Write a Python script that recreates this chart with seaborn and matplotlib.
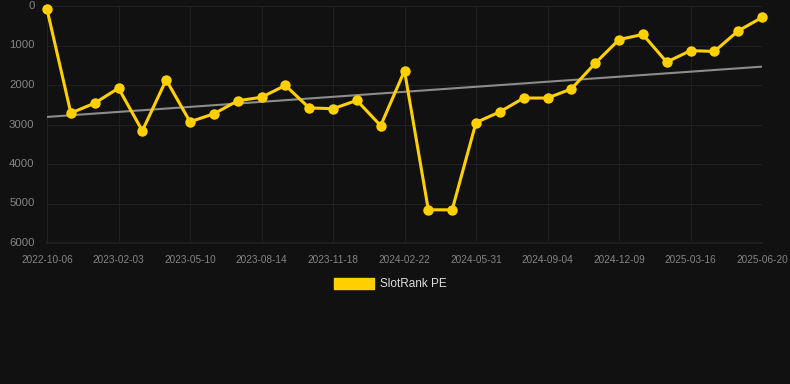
import numpy as np
import pandas as pd
import matplotlib
matplotlib.use("Agg")
import matplotlib.pyplot as plt
from matplotlib.patches import Patch
import seaborn as sns

# Data (rank per period; lower = better)
rank_values = [80, 2710, 2460, 2080, 3160, 1870, 2930, 2730, 2400, 2310,
               2010, 2580, 2600, 2390, 3030, 1640, 5160, 5160, 2950, 2680,
               2330, 2330, 2100, 1450, 850, 720, 1420, 1130, 1150, 630, 290]
tick_labels = ["2022-10-06", "2023-02-03", "2023-05-10", "2023-08-14",
               "2023-11-18", "2024-02-22", "2024-05-31", "2024-09-04",
               "2024-12-09", "2025-03-16", "2025-06-20"]
series_name = "SlotRank PE"

# Colors
bg = "#111111"
grid_col = "#202020"
text_col = "#858585"
yellow = "#FFD000"
trend_col = "#8c8c8c"

df = pd.DataFrame({"idx": np.arange(len(rank_values)), "rank": rank_values})

sns.set_theme(style="dark")
plt.rcParams["font.family"] = ["Liberation Sans", "DejaVu Sans"]

fig = plt.figure(figsize=(7.9, 3.84), dpi=100, facecolor=bg)
ax = fig.add_axes([47 / 790, 1 - 243 / 384, (762 - 47) / 790, (243 - 6) / 384])
ax.set_facecolor(bg)

# Trend line (linear fit)
coef = np.polyfit(df["idx"], df["rank"], 1)
trend = np.polyval(coef, df["idx"])
ax.plot(df["idx"], trend, color=trend_col, lw=1.5, zorder=2)

sns.lineplot(data=df, x="idx", y="rank", ax=ax, color=yellow, lw=2.2,
             marker="o", markersize=7.5, markeredgewidth=0, zorder=3,
             clip_on=False)

ax.set_xlim(0, len(rank_values) - 1)
ax.set_ylim(6000, 0)
ax.set_xticks(np.arange(0, len(rank_values), 3))
ax.set_xticklabels(tick_labels)
ax.set_yticks(np.arange(0, 6001, 1000))
ax.set_xlabel("")
ax.set_ylabel("")

ax.grid(True, color=grid_col, lw=0.8)
ax.tick_params(axis="x", colors=grid_col, labelcolor=text_col, labelsize=7.2,
               length=5, width=0.8, pad=3.5)
ax.tick_params(axis="y", colors=grid_col, labelcolor=text_col, labelsize=8.2,
               length=0, pad=9)
for lbl in ax.get_yticklabels():
    lbl.set_verticalalignment("center")
for s in ax.spines.values():
    s.set_visible(False)
ax.spines["bottom"].set_visible(True)
ax.spines["bottom"].set_color(grid_col)

handle = Patch(facecolor=yellow, edgecolor=yellow)
fig.legend([handle], [series_name], loc="center", bbox_to_anchor=(0.494, 0.26),
           frameon=False, fontsize=8.5, labelcolor="#dddddd",
           handlelength=3.4, handleheight=1.0, handletextpad=0.5)

plt.savefig("out.png", dpi=100, facecolor=bg)
